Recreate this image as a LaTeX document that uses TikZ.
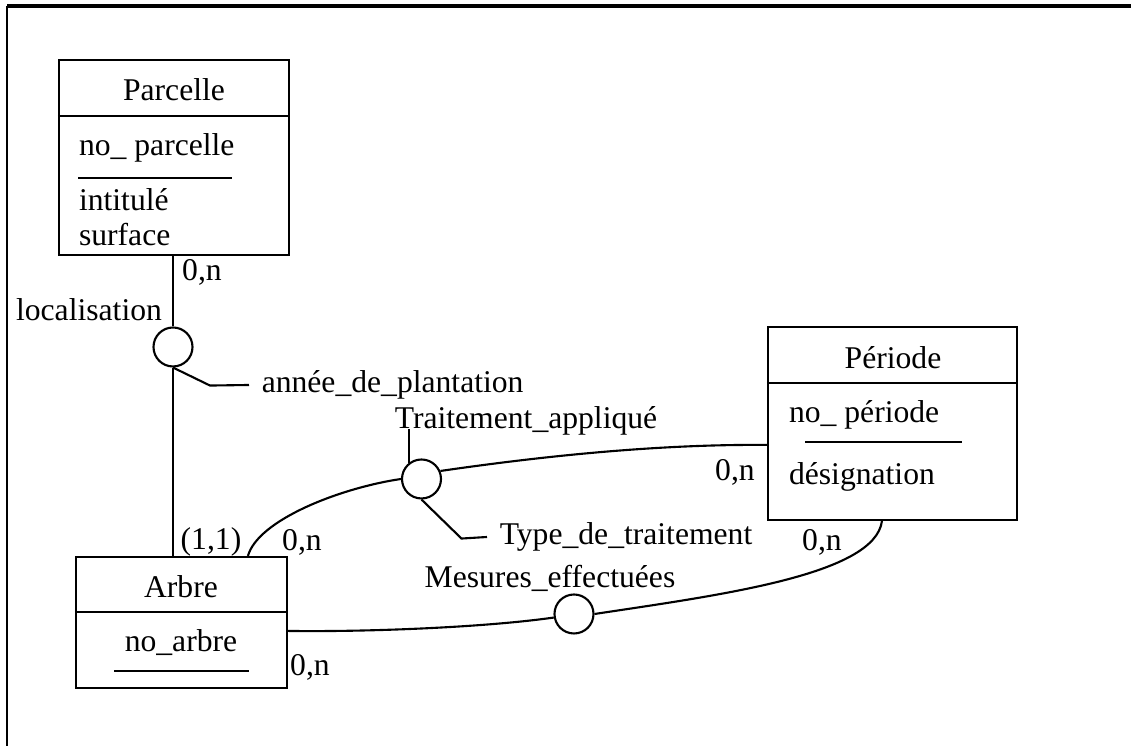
\documentclass[tikz,border=0pt]{standalone}
\usepackage{fontspec}
\setmainfont{Liberation Serif}
\usepackage{tikz}
\usetikzlibrary{calc}

\begin{document}
\begin{tikzpicture}[font=\fontsize{9}{11}\selectfont, line width=0.6pt,
  entity/.style={draw, rectangle, inner sep=0pt},
  assoc/.style={draw, circle, minimum size=0.39cm, inner sep=0pt},
  attr/.style={anchor=west, inner sep=0pt},
  card/.style={inner sep=1pt}]
\useasboundingbox (0,0) rectangle (11.31,-7.46);
% cadre
\draw[line width=1pt] (0.07,-0.06) -- (11.31,-0.06);
\draw[line width=0.5pt] (0.07,-0.06) -- (0.07,-7.46);

% Parcelle
\node[entity, minimum width=2.30cm, minimum height=1.95cm] (parcelle) at (1.74,-1.575) {};
\node (parcelleT) at (1.74,-0.90) {Parcelle};
\draw ($(parcelle.north west)+(0,-0.57)$) -- ($(parcelle.north east)+(0,-0.57)$);
\node[attr] (noparc) at (0.78,-1.48) {no\_ parcelle};
\draw (0.78,-1.78) -- (2.32,-1.78);
\node[attr] (intitule) at (0.78,-2.00) {intitulé};
\node[attr] (surface) at (0.78,-2.35) {surface};

% Arbre
\node[entity, minimum width=2.11cm, minimum height=1.31cm] (arbre) at (1.815,-6.225) {};
\node (arbreT) at (1.81,-5.87) {Arbre};
\draw ($(arbre.north west)+(0,-0.56)$) -- ($(arbre.north east)+(0,-0.56)$);
\node (noarbre) at (1.81,-6.43) {no\_arbre};
\draw (1.14,-6.71) -- (2.49,-6.71);

% Periode
\node[entity, minimum width=2.49cm, minimum height=1.93cm] (periode) at (8.925,-4.235) {};
\node (periodeT) at (8.93,-3.58) {Période};
\draw ($(periode.north west)+(0,-0.57)$) -- ($(periode.north east)+(0,-0.57)$);
\node[attr] (noper) at (7.88,-4.15) {no\_ période};
\draw (8.05,-4.42) -- (9.62,-4.42);
\node[attr] (design) at (7.88,-4.77) {désignation};

% associations
\node[assoc] (locrel) at (1.73,-3.47) {};
\node[assoc] (traitrel) at (4.215,-4.79) {};
\node[assoc] (mesrel) at (5.74,-6.14) {};

\node (locT) at (0.89,-3.10) {localisation};
\node[anchor=west] (anneeT) at (2.49,-3.85) {année\_de\_plantation};
\node[anchor=base] (traitT) at (5.26,-4.29) {Traitement\_appliqué};
\node[anchor=west] (typeT) at (4.87,-5.37) {Type\_de\_traitement};
\node (mesT) at (5.50,-5.78) {Mesures\_effectuées};

% cardinalites
\node[card] (c1) at (2.02,-2.72) {0,n};
\node[card] (c2) at (2.11,-5.42) {(1,1)};
\node[card] (c3) at (3.02,-5.42) {0,n};
\node[card] (c4) at (7.35,-4.72) {0,n};
\node[card] (c5) at (8.22,-5.42) {0,n};
\node[card] (c6) at (3.10,-6.67) {0,n};

% liens
\draw (locrel |- parcelle.south) -- (locrel.north);
\draw (locrel.south) -- (locrel |- arbre.north);
\draw (locrel.south) -- ++(0.37,-0.18) -- (anneeT.west);
\draw (traitrel.127) -- (traitrel.127 |- traitT.base);
\draw (traitrel.south) -- ++(0.40,-0.39) -- (typeT.west);

\coordinate (arbreA) at ($(arbre.north west)+(1.73,0)$);
\draw (arbreA) .. controls (2.58,-5.20) and (3.40,-4.88) .. (traitrel.west);
\coordinate (perA) at ($(periode.north west)+(0,-1.19)$);
\draw (traitrel.23) .. controls (5.3,-4.58) and (6.5,-4.44) .. (perA);
\coordinate (perB) at ($(periode.south west)+(1.15,0)$);
\draw (perB) .. controls (8.75,-5.75) and (7.2,-5.95) .. (mesrel.east);
\coordinate (arbreB) at ($(arbre.north east)+(0,-0.75)$);
\draw (arbreB) .. controls (3.6,-6.32) and (4.8,-6.28) .. (mesrel.190);
\end{tikzpicture}
\end{document}
